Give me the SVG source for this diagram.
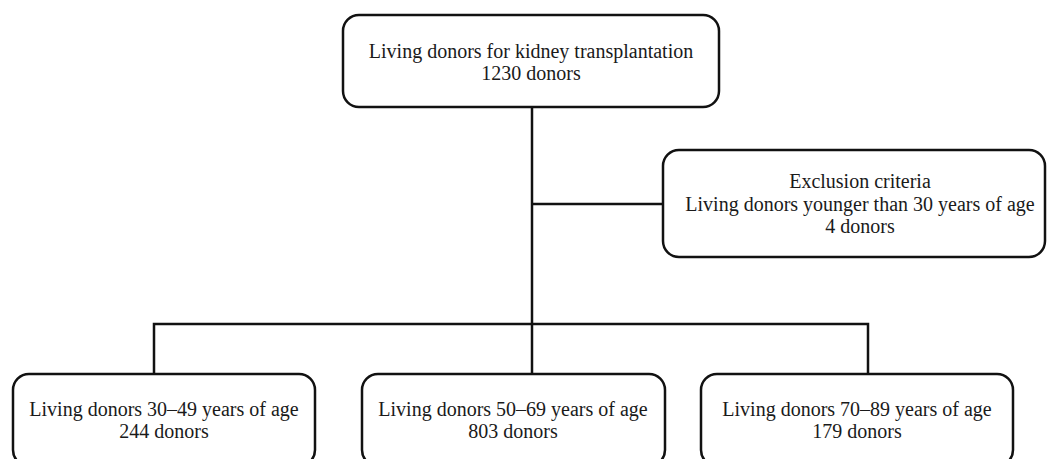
<svg xmlns="http://www.w3.org/2000/svg" width="1047" height="459" viewBox="0 0 1047 459">
<style>
.box{fill:#fff;stroke:#111;stroke-width:2.5}
.line{fill:none;stroke:#111;stroke-width:2.5}
text{font-size:20px;fill:#1a1a1a;text-anchor:middle}
</style>
<rect width="1047" height="459" fill="#fff"/>
<g id="connectors">
<path class="line" d="M532,107 V324"/>
<path class="line" d="M532,204 H663"/>
<path class="line" d="M154,374 V324 H868 V374"/>
<path class="line" d="M532,324 V374"/>
</g>
<g font-family="'Liberation Serif', 'Times New Roman', 'DejaVu Serif', serif">
<g id="top">
<rect class="box" x="343" y="15" width="376" height="92" rx="16"/>
<text x="531" y="58">Living donors for kidney transplantation</text>
<text x="531" y="80">1230 donors</text>
</g>
<g id="exclusion">
<rect class="box" x="663" y="150" width="382" height="107" rx="16"/>
<text x="860" y="188">Exclusion criteria</text>
<text x="860" y="211">Living donors younger than 30 years of age</text>
<text x="860" y="233">4 donors</text>
</g>
<g id="age30">
<rect class="box" x="13" y="374" width="302" height="92" rx="16"/>
<text x="164" y="416">Living donors 30–49 years of age</text>
<text x="164" y="438">244 donors</text>
</g>
<g id="age50">
<rect class="box" x="362" y="374" width="303" height="92" rx="16"/>
<text x="513" y="416">Living donors 50–69 years of age</text>
<text x="513" y="438">803 donors</text>
</g>
<g id="age70">
<rect class="box" x="701" y="374" width="312" height="92" rx="16"/>
<text x="857" y="416">Living donors 70–89 years of age</text>
<text x="857" y="438">179 donors</text>
</g>
</g>
</svg>
